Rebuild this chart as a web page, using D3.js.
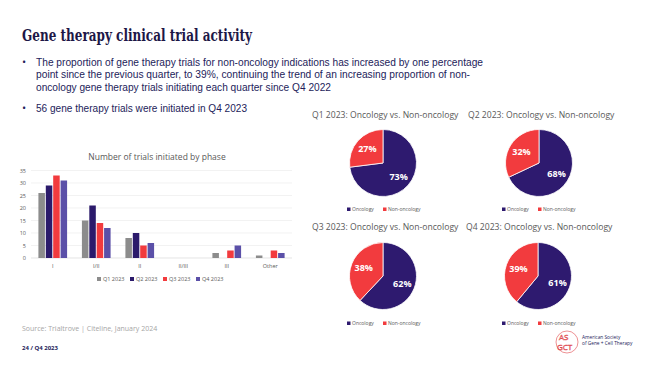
<!DOCTYPE html>
<html><head><meta charset="utf-8">
<script src="https://cdn.jsdelivr.net/npm/d3@7"></script>
<style>body{margin:0;background:#fff;}svg{display:block;font-family:"Open Sans",Calibri,sans-serif;}</style>
</head><body>
<svg id="c" width="649" height="365"></svg>
<script>
const phases = ["I","I/II","II","II/III","III","Other"];
const quarters = ["Q1 2023","Q2 2023","Q3 2023","Q4 2023"];
const q1Counts = [26,15,8,0,2,1];
const q2Counts = [29,21,10,0,0,0];
const q3Counts = [33,14,5,0,3,3];
const q4Counts = [31,12,6,0,5,2];
const yTicks = [0,5,10,15,20,25,30,35];
const pieLabels = ["Oncology","Non-oncology"];
const oncologyPct = [73,68,62,61];
const nonOncologyPct = [27,32,38,39];

const svg = d3.select("#c");
const navy = "#231c5a";
// Title
svg.append("text").attr("x",22).attr("y",40.5).attr("font-family","'DejaVu Serif',serif").attr("font-weight","bold")
  .attr("font-size",16).attr("fill","#1d1747").attr("textLength",230).attr("lengthAdjust","spacingAndGlyphs")
  .text("Gene therapy clinical trial activity");
const bullets = [
  {y:65.7, lines:[["The proportion of gene therapy trials for non-oncology indications has increased by one percentage",447],["point since the previous quarter, to 39%, continuing the trend of an increasing proportion of non-",434],["oncology gene therapy trials initiating each quarter since Q4 2022",295]]},
  {y:112.3, lines:[["56 gene therapy trials were initiated in Q4 2023",211]]}
];
bullets.forEach(b=>{
  svg.append("text").attr("x",22).attr("y",b.y).attr("font-size",11).attr("fill",navy).text("•");
  const t = svg.append("text").attr("font-family","'Liberation Sans',Arial,sans-serif").attr("font-size",10.8).attr("fill",navy);
  b.lines.forEach((l,i)=>t.append("tspan").attr("x",36).attr("y",b.y+i*12.7)
    .attr("textLength",l[1]).attr("lengthAdjust","spacingAndGlyphs").text(l[0]));
});

// Bar chart
const data = phases.map((p,i)=>({phase:p, vals:[q1Counts[i],q2Counts[i],q3Counts[i],q4Counts[i]]}));
const barColors = ["#8c8c8c","#2b1a6b","#f23b3e","#5b50a8"];
const x0 = d3.scaleBand().domain(phases).range([31,292]).paddingInner(0.3).paddingOuter(0.15);
const x1 = d3.scaleBand().domain(quarters).range([0,x0.bandwidth()]).padding(0.12);
const y = d3.scaleLinear().domain([0,35]).range([258,170.5]);
const gBar = svg.append("g");
gBar.append("text").attr("x",157).attr("y",160).attr("text-anchor","middle").attr("font-size",8.5).attr("fill","#595959")
  .text("Number of trials initiated by phase");
gBar.selectAll("line.grid").data(yTicks).join("line").attr("x1",31).attr("x2",292)
  .attr("y1",d=>y(d)).attr("y2",d=>y(d)).attr("stroke",d=>d===0?"#d9d9d9":"#ececec").attr("stroke-width",0.7);
gBar.selectAll("text.yt").data(yTicks).join("text").attr("x",26).attr("y",d=>y(d)+2)
  .attr("text-anchor","end").attr("font-size",5.5).attr("fill","#595959").text(d=>d);
const grp = gBar.selectAll("g.grp").data(data).join("g").attr("transform",d=>`translate(${x0(d.phase)},0)`);
grp.selectAll("rect").data(d=>d.vals.map((v,i)=>({q:quarters[i],v,i}))).join("rect")
  .attr("x",d=>x1(d.q)).attr("width",x1.bandwidth()).attr("y",d=>y(d.v)).attr("height",d=>y(0)-y(d.v))
  .attr("fill",d=>barColors[d.i]);
gBar.selectAll("text.xt").data(phases).join("text").attr("x",d=>x0(d)+x0.bandwidth()/2).attr("y",268)
  .attr("text-anchor","middle").attr("font-size",5.5).attr("fill","#595959").text(d=>d);
const lg = gBar.selectAll("g.lg").data(quarters).join("g").attr("transform",(d,i)=>`translate(${97+i*33},281)`);
lg.append("rect").attr("x",0).attr("y",-4).attr("width",4).attr("height",4).attr("fill",(d,i)=>barColors[i]);
lg.append("text").attr("x",6).attr("y",0).attr("font-size",5.5).attr("fill","#595959").text(d=>d);

// Pies
const pieColors = ["#2e1a6f","#f23b3e"];
const pieDefs = [
  {cx:383,cy:163,tx:312,ty:118,lx:347,ly:211},
  {cx:539,cy:163,tx:468,ty:118,lx:502,ly:211},
  {cx:383,cy:276,tx:312,ty:230,lx:347,ly:325},
  {cx:538,cy:276,tx:466,ty:230,lx:502,ly:325}
];
const r = 33.5;
const pie = d3.pie().sort(null).value(d=>d);
const arc = d3.arc().innerRadius(0).outerRadius(r);
const labArc = d3.arc().innerRadius(r*0.62).outerRadius(r*0.62);
pieDefs.forEach((p,qi)=>{
  const g = svg.append("g");
  g.append("text").attr("x",p.tx).attr("y",p.ty).attr("font-size",8.6).attr("fill","#595959")
    .text(`Q${qi+1} 2023: Oncology vs. Non-oncology`);
  const arcs = pie([oncologyPct[qi],nonOncologyPct[qi]]);
  const pg = g.append("g").attr("transform",`translate(${p.cx},${p.cy})`);
  pg.selectAll("path").data(arcs).join("path").attr("d",arc).attr("fill",(d,i)=>pieColors[i])
    .attr("stroke","#fff").attr("stroke-width",0.8);
  pg.selectAll("text").data(arcs).join("text").attr("transform",d=>{
      const c = labArc.centroid(d); return `translate(${c[0]},${c[1]+3})`;})
    .attr("text-anchor","middle").attr("font-size",9).attr("font-weight","bold").attr("fill","#fff")
    .text((d,i)=>[oncologyPct[qi],nonOncologyPct[qi]][i]+"%");
  const lgp = g.selectAll("g.l").data(pieLabels).join("g").attr("transform",(d,i)=>`translate(${p.lx+i*36},${p.ly})`);
  lgp.append("rect").attr("x",0).attr("y",-3.5).attr("width",3.5).attr("height",3.5).attr("fill",(d,i)=>pieColors[i]);
  lgp.append("text").attr("x",5).attr("y",0).attr("font-size",5).attr("fill","#595959").text(d=>d);
});

// Footer
svg.append("text").attr("x",22).attr("y",331).attr("font-size",7).attr("fill","#a6a6a6").text("Source: Trialtrove | Citeline, January 2024");
svg.append("text").attr("x",22).attr("y",350).attr("font-size",6).attr("font-weight","bold").attr("fill",navy).text("24 / Q4 2023");
// Logo
const logo = svg.append("g");
logo.append("circle").attr("cx",567).attr("cy",342).attr("r",11).attr("fill","none").attr("stroke","#e0474c").attr("stroke-width",0.6);
logo.append("text").attr("x",559).attr("y",340).attr("font-size",8).attr("fill","none").attr("stroke","#e0474c").attr("stroke-width",0.5).text("AS");
logo.append("text").attr("x",557).attr("y",350).attr("font-size",8).attr("fill","none").attr("stroke","#e0474c").attr("stroke-width",0.5).text("GCT");
logo.append("text").attr("x",582).attr("y",339).attr("font-size",4.8).attr("fill","#231c5a").text("American Society");
logo.append("text").attr("x",582).attr("y",345).attr("font-size",4.8).attr("fill","#231c5a").text("of Gene + Cell Therapy");
</script>
</body></html>
